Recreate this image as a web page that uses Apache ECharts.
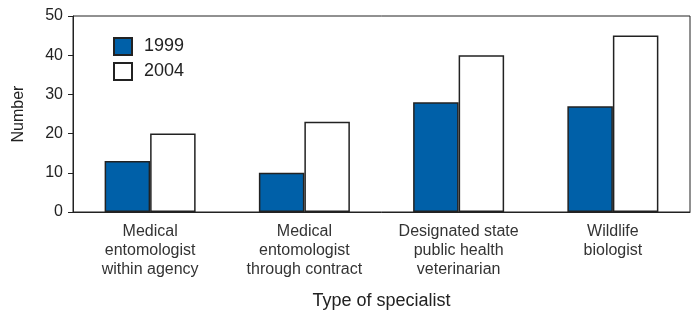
<!DOCTYPE html>
<html><head><meta charset="utf-8">
<script src="https://cdn.jsdelivr.net/npm/echarts@6/dist/echarts.min.js"></script>
<style>html,body{margin:0;padding:0;background:#fff}#c{width:694px;height:312px}</style>
</head><body><div id="c"></div>
<script>
var categories = ["Medical\nentomologist\nwithin agency", "Medical\nentomologist\nthrough contract", "Designated state\npublic health\nveterinarian", "Wildlife\nbiologist"];
var values1999 = [13, 10, 28, 27];
var values2004 = [20, 23, 40, 45];
var yTicks = [0, 10, 20, 30, 40, 50];

var font = "'Liberation Sans', Arial, Helvetica, sans-serif";
var chart = echarts.init(document.getElementById('c'));
chart.setOption({
  animation: false,
  textStyle: {fontFamily: font},
  grid: {left: 73, right: 4, top: 16, bottom: 100, containLabel: false, outerBoundsMode: 'none',
    show: true, borderColor: '#222', borderWidth: 1, backgroundColor: 'transparent'},
  legend: {
    orient: 'vertical', left: 108, top: 32, itemWidth: 18, itemHeight: 17, itemGap: 6,
    icon: 'rect',
    textStyle: {fontFamily: font, fontSize: 18, color: '#222', padding: [0, 0, 0, 7]},
    data: ['1999', '2004']
  },
  xAxis: {
    type: 'category', data: categories,
    axisLine: {lineStyle: {color: '#222', width: 1}},
    axisTick: {alignWithLabel: true, length: 5, lineStyle: {color: '#222'}},
    axisLabel: {color: '#333', fontSize: 16, lineHeight: 19, margin: 10, interval: 0, fontFamily: font},
    name: 'Type of specialist', nameLocation: 'middle', nameGap: 80,
    nameTextStyle: {fontSize: 18, color: '#222', fontFamily: font}
  },
  yAxis: {
    type: 'value', min: 0, max: 50, interval: 10,
    splitLine: {show: false},
    axisLine: {show: true, lineStyle: {color: '#222', width: 1}},
    axisTick: {show: true, length: 5, lineStyle: {color: '#222'}},
    axisLabel: {color: '#222', fontSize: 16, margin: 10, fontFamily: font,
      formatter: function (v) { return yTicks.indexOf(v) >= 0 ? String(v) : ''; }},
    name: 'Number', nameLocation: 'middle', nameGap: 46,
    nameTextStyle: {fontSize: 16, color: '#222', fontFamily: font}
  },
  series: [
    {name: '1999', type: 'bar', data: values1999, barGap: '0%', barCategoryGap: '41%',
     itemStyle: {color: '#0060a8', borderColor: '#222', borderWidth: 1.5}},
    {name: '2004', type: 'bar', data: values2004,
     itemStyle: {color: '#ffffff', borderColor: '#222', borderWidth: 1.5}}
  ]
});
</script></body></html>
